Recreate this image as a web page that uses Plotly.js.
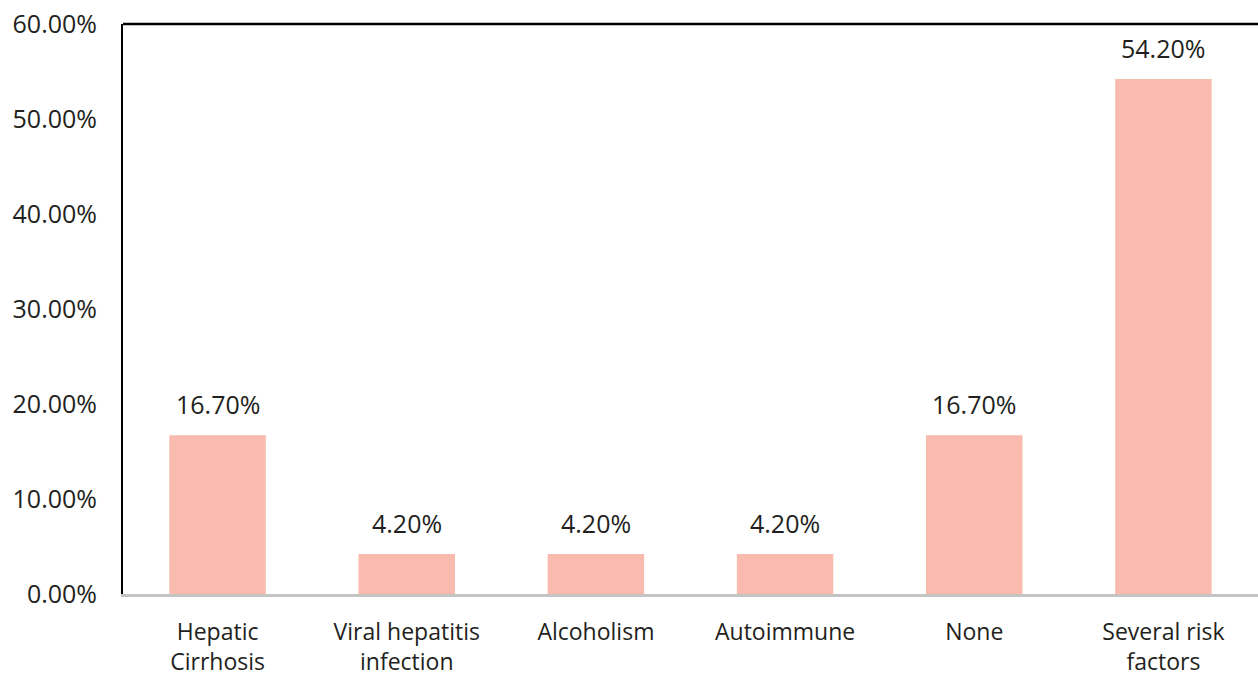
<!DOCTYPE html>
<html>
<head>
<meta charset="utf-8">
<script src="https://cdn.plot.ly/plotly-3.0.1.min.js"></script>
<style>html,body{margin:0;padding:0;background:#fff;}#chart{width:1258px;height:680px;}</style>
</head>
<body>
<div id="chart"></div>
<script>
const categories = ["Hepatic<br>Cirrhosis", "Viral hepatitis<br>infection", "Alcoholism", "Autoimmune", "None", "Several risk<br>factors"];
const values = [16.7, 4.2, 4.2, 4.2, 16.7, 54.2];
const tickVals = [0, 10, 20, 30, 40, 50, 60];
const tickText = ["0.00%", "10.00%", "20.00%", "30.00%", "40.00%", "50.00%", "60.00%"];
const labels = values.map(v => v.toFixed(2) + "%");

const textColor = "#231f20";
const fontFam = "Open Sans, Noto Sans, sans-serif";
const fs = 25;

const trace = {
  type: "bar",
  x: categories,
  y: values,
  marker: {color: "#f9bbad", line: {width: 0}},
  cliponaxis: false,
  hoverinfo: "none"
};

const annotations = categories.map((c, i) => ({
  x: c, y: values[i], xref: "x", yref: "y",
  text: labels[i], showarrow: false,
  yanchor: "middle", xanchor: "center", yshift: 31,
  font: {family: fontFam, size: fs, color: textColor}
}));

const layout = {
  width: 1258,
  height: 680,
  margin: {l: 123, r: 0, t: 24, b: 86},
  paper_bgcolor: "#ffffff",
  plot_bgcolor: "#ffffff",
  showlegend: false,
  bargap: 0.49,
  font: {family: fontFam, size: fs, color: textColor},
  xaxis: {
    type: "category",
    showline: true,
    linecolor: "#c4c4c4",
    linewidth: 3,
    ticks: "",
    showgrid: false,
    zeroline: false,
    tickfont: {family: fontFam, size: 23, color: textColor},
    ticklabelstandoff: 15
  },
  yaxis: {
    range: [0, 60],
    tickvals: tickVals,
    ticktext: tickText,
    showline: true,
    linecolor: "#000000",
    linewidth: 2,
    showgrid: false,
    zeroline: false,
    ticks: "",
    ticklabelstandoff: 19,
    tickfont: {family: fontFam, size: fs, color: textColor}
  },
  annotations: annotations,
  shapes: [{
    type: "line", xref: "paper", yref: "paper",
    x0: 0, x1: 1, y0: 1, y1: 1,
    line: {color: "#000000", width: 2.5}
  }]
};

Plotly.newPlot("chart", [trace], layout, {displayModeBar: false, staticPlot: true});
</script>
</body>
</html>
